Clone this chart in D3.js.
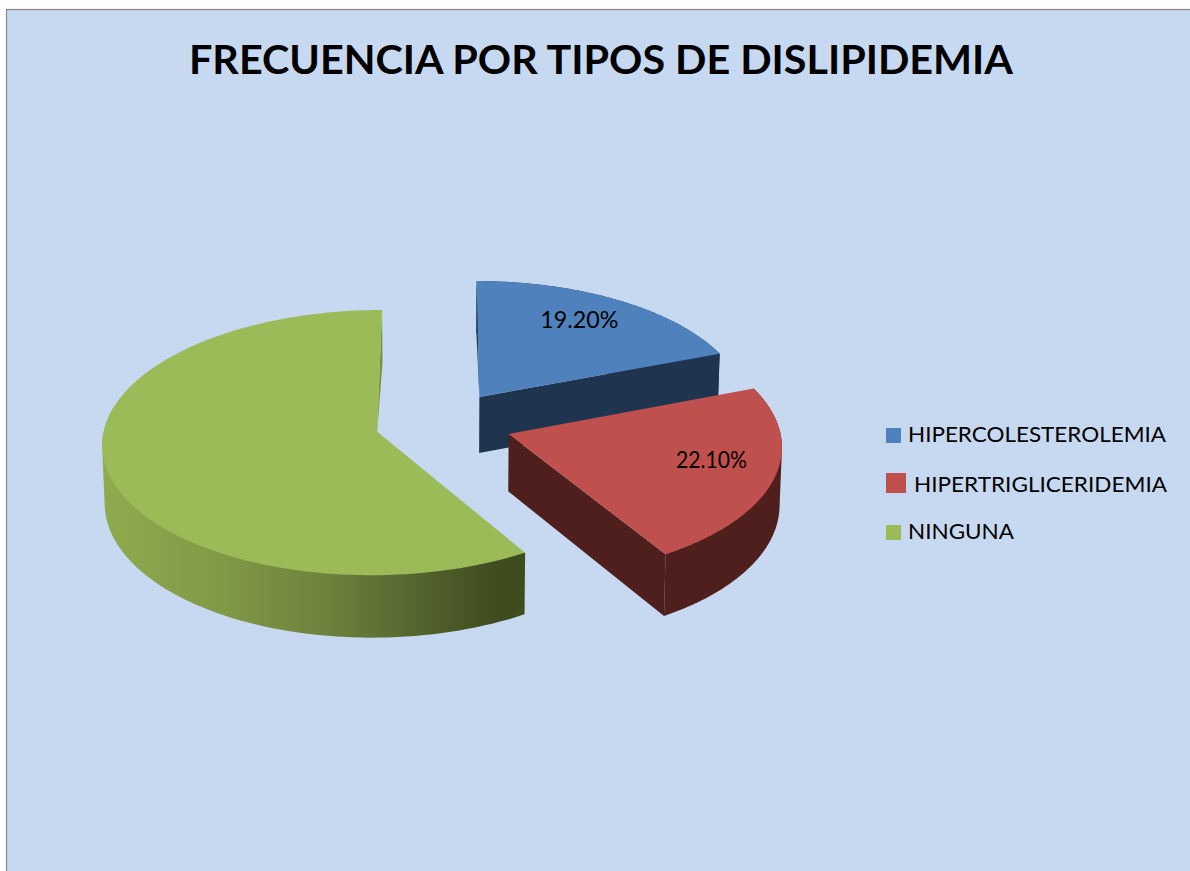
<!DOCTYPE html>
<html>
<head>
<meta charset="utf-8">
<style>html,body{margin:0;padding:0;background:#fff}svg{display:block}text{font-family:Lato,"Open Sans",sans-serif;fill:#000}</style>
<script src="https://cdn.jsdelivr.net/npm/d3@7/dist/d3.min.js"></script>
</head>
<body>
<script>
const categories = ["HIPERCOLESTEROLEMIA", "HIPERTRIGLICERIDEMIA", "NINGUNA"];
const values = [19.2, 22.1, 58.7];
const valueLabels = ["19.20%", "22.10%", null];
const topColors = ["#4f81bd", "#c0504d", "#9bbb59"];
const wallColors = ["#1f344f", "#4f1f1d", "url(#greenWall)"];
const sliverColors = ["#1f344f", "#4f1f1d", "#76923c"];
const explodeBySlice = [67, 70, 67];
const radiusBySlice = [270, 270, 272];
const titleText = "FRECUENCIA POR TIPOS DE DISLIPIDEMIA";

const W = 1190, H = 871;
const view = {cx: 442, cy: 423, tilt: 0.479, persp: 0.0003, depth: 57, floor: 0.993};

const svg = d3.select("body").append("svg").attr("width", W).attr("height", H);
svg.append("rect").attr("x", 6.5).attr("y", 9.5).attr("width", W).attr("height", H)
  .attr("fill", "#c6d9f1").attr("stroke", "#868686").attr("stroke-width", 1.2);

const grad = svg.append("defs").append("linearGradient").attr("id", "greenWall")
  .attr("gradientUnits", "userSpaceOnUse").attr("x1", 100).attr("x2", 526).attr("y1", 0).attr("y2", 0);
[[0, "#8fab4e"], [0.3, "#7f9845"], [0.55, "#6c803d"], [0.8, "#4d5d2a"], [0.93, "#3f4c1e"], [1, "#3f4c1e"]]
  .forEach(([o, c]) => grad.append("stop").attr("offset", o).attr("stop-color", c));

svg.append("text").attr("x", 189).attr("y", 74)
  .attr("font-size", 40.5).attr("font-weight", 700)
  .attr("textLength", 824).attr("lengthAdjust", "spacingAndGlyphs").text(titleText);

const arcs = d3.pie().sort(null)(values);

function project(d, angle, frac, floor) {
  const mid = (d.startAngle + d.endAngle) / 2;
  const R = radiusBySlice[d.index], e = explodeBySlice[d.index];
  const X = e * Math.sin(mid) + R * frac * Math.sin(angle);
  const Y = -e * Math.cos(mid) - R * frac * Math.cos(angle);
  const s = 1 / (1 - view.persp * Y);
  return [
    view.cx + X * s * (floor ? view.floor : 1),
    view.cy + view.tilt * Y * s + (floor ? view.depth * s : 0)
  ];
}
const line = d3.line().curve(d3.curveLinearClosed);

arcs.forEach((d, i) => {
  const angles = d3.range(0, 121).map(t => d.startAngle + (d.endAngle - d.startAngle) * t / 120);
  const g = svg.append("g");
  const apex = project(d, 0, 0, false), apexFloor = project(d, 0, 0, true);
  const rimEnd = project(d, d.endAngle, 1, false), rimEndFloor = project(d, d.endAngle, 1, true);

  // outer wall: silhouette of the upper and lower rims over the part of the arc that faces the viewer
  const facing = angles.filter(a => a <= Math.PI * 1.56);
  const rimPoints = facing.map(a => project(d, a, 1, false)).concat(facing.map(a => project(d, a, 1, true)));
  g.append("path").attr("fill", wallColors[i]).attr("d", line(d3.polygonHull(rimPoints)));
  // radial wall at the end angle faces the viewer for the blue and red slices only
  if (i < 2) {
    g.append("path").attr("fill", wallColors[i]).attr("d", line([apex, rimEnd, rimEndFloor, apexFloor]));
  }
  // thin visible part of the radial wall at twelve o'clock
  const north = i === 2 ? d.endAngle : d.startAngle;
  if (i !== 1) {
    g.append("path").attr("fill", sliverColors[i]).attr("d", line(
      [apex, project(d, north, 1, false), project(d, north, 1, true)]));
  }
  // top face
  g.append("path").attr("fill", topColors[i]).attr("d", line(
    [apex].concat(angles.map(a => project(d, a, 1, false)))));
});

const labelFrac = [0.75, 0.76];
const labelNudge = [[-6, 5], [2, 1]];
const labelSize = [24, 23];
const labelW = [78, 71];
arcs.forEach((d, i) => {
  if (!valueLabels[i]) return;
  const mid = (d.startAngle + d.endAngle) / 2;
  const p = project(d, mid, labelFrac[i], false);
  svg.append("text").attr("x", p[0] + labelNudge[i][0]).attr("y", p[1] + labelNudge[i][1])
    .attr("text-anchor", "middle").attr("font-size", labelSize[i])
    .attr("textLength", labelW[i]).attr("lengthAdjust", "spacingAndGlyphs").text(valueLabels[i]);
});

const legendBox = [15, 20, 15];
const legendX = [908, 914, 908];
const legendBase = [442, 492, 539];
const legendBoxY = [428, 473, 525];
const legendW = [258, 253, 106];
categories.forEach((c, i) => {
  svg.append("rect").attr("x", 886).attr("y", legendBoxY[i])
    .attr("width", legendBox[i]).attr("height", legendBox[i]).attr("fill", topColors[i]);
  svg.append("text").attr("x", legendX[i]).attr("y", legendBase[i]).attr("font-size", 22)
    .attr("textLength", legendW[i]).attr("lengthAdjust", "spacingAndGlyphs").text(c);
});
</script>
</body>
</html>
